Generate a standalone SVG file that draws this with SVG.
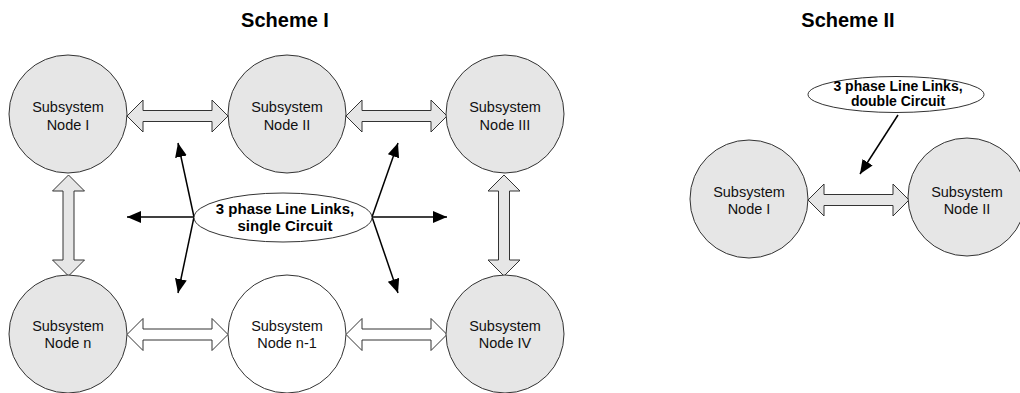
<svg xmlns="http://www.w3.org/2000/svg" width="1020" height="393" viewBox="0 0 1020 393">
<style>
.node{fill:#e6e6e6;stroke:#333;stroke-width:1}
.white{fill:#fff}
.t{font-family:"Liberation Sans",Arial,sans-serif;font-size:14.5px;fill:#111;text-anchor:middle}
.b{font-family:"Liberation Sans",Arial,sans-serif;font-weight:bold;text-anchor:middle;fill:#000}
.dbl{fill:#e6e6e6;stroke:#333;stroke-width:1;stroke-linejoin:miter}
.dblw{fill:#fff;stroke:#333;stroke-width:1}
.ptr{stroke:#000;stroke-width:1.5;fill:none;marker-end:url(#ah)}
.ell{fill:#fff;stroke:#333;stroke-width:1}
</style>
<defs>
<marker id="ah" markerUnits="userSpaceOnUse" markerWidth="16" markerHeight="14" refX="14" refY="6" orient="auto">
<path d="M0,0 L14,6 L0,12 Z" fill="#000"/>
</marker>
<path id="hArr" d="M0,0 L16,-16 L16,-5.5 L85,-5.5 L85,-16 L101,0 L85,16 L85,5.5 L16,5.5 L16,16 Z"/>
</defs>
<text class="b" x="285" y="27" font-size="20">Scheme I</text>
<text class="b" x="848" y="27" font-size="20">Scheme II</text>
<g id="connectors">
<use href="#hArr" class="dbl" x="127" y="116"/>
<use href="#hArr" class="dbl" x="346" y="116"/>
<use href="#hArr" class="dblw" x="127" y="334.5"/>
<use href="#hArr" class="dblw" x="346" y="334.5"/>
<use href="#hArr" class="dbl" transform="translate(68.5,175) rotate(90)"/>
<use href="#hArr" class="dbl" transform="translate(504,175) rotate(90)"/>
<use href="#hArr" class="dbl" x="808" y="200"/>
<line class="ptr" x1="194" y1="217" x2="127" y2="217"/>
<line class="ptr" x1="194" y1="217" x2="178" y2="143"/>
<line class="ptr" x1="194" y1="217" x2="178" y2="293"/>
<line class="ptr" x1="372" y1="217" x2="447" y2="217"/>
<line class="ptr" x1="372" y1="217" x2="398" y2="143"/>
<line class="ptr" x1="372" y1="217" x2="398" y2="293"/>
<line class="ptr" x1="898" y1="115" x2="860" y2="174"/>
</g>
<g id="label1">
<ellipse class="ell" cx="283" cy="217.5" rx="89" ry="24.5"/>
<text class="b" font-size="15" x="285" y="214">3 phase Line Links,</text>
<text class="b" font-size="15" x="285" y="231">single Circuit</text>
</g>
<g id="label2">
<ellipse class="ell" cx="896" cy="94.5" rx="88" ry="18"/>
<text class="b" font-size="14" x="898" y="91">3 phase Line Links,</text>
<text class="b" font-size="14" x="898" y="106">double Circuit</text>
</g>
<g id="s1-node1"><circle class="node" cx="68" cy="114" r="59"/><text class="t" x="68" y="112">Subsystem</text><text class="t" x="68" y="130">Node I</text></g>
<g id="s1-node2"><circle class="node" cx="287" cy="114" r="59"/><text class="t" x="287" y="112">Subsystem</text><text class="t" x="287" y="130">Node II</text></g>
<g id="s1-node3"><circle class="node" cx="505" cy="114" r="59"/><text class="t" x="505" y="112">Subsystem</text><text class="t" x="505" y="130">Node III</text></g>
<g id="s1-noden"><circle class="node" cx="68" cy="334" r="59"/><text class="t" x="68" y="331">Subsystem</text><text class="t" x="68" y="348">Node n</text></g>
<g id="s1-noden1"><circle class="node white" cx="287" cy="334" r="59"/><text class="t" x="287" y="331">Subsystem</text><text class="t" x="287" y="348">Node n-1</text></g>
<g id="s1-node4"><circle class="node" cx="505" cy="334" r="59"/><text class="t" x="505" y="331">Subsystem</text><text class="t" x="505" y="348">Node IV</text></g>
<g id="s2-node1"><circle class="node" cx="749" cy="199" r="59"/><text class="t" x="749" y="197">Subsystem</text><text class="t" x="749" y="214">Node I</text></g>
<g id="s2-node2"><circle class="node" cx="967" cy="197" r="59"/><text class="t" x="967" y="197">Subsystem</text><text class="t" x="967" y="214">Node II</text></g>
</svg>
